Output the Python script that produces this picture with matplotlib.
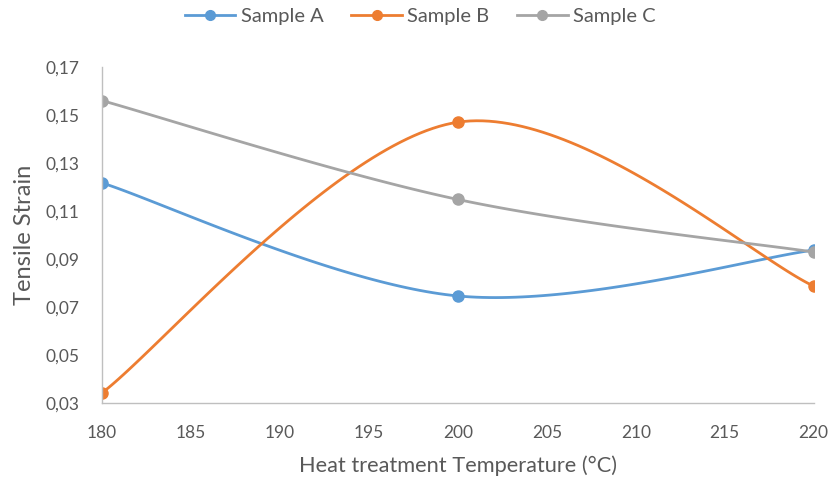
import numpy as np
import matplotlib
matplotlib.use("Agg")
import matplotlib.pyplot as plt
from matplotlib.ticker import FuncFormatter
from matplotlib.lines import Line2D

temps = [180, 200, 220]
sample_a = [0.1217, 0.0746, 0.0937]
sample_b = [0.0342, 0.1470, 0.0787]
sample_c = [0.1560, 0.1148, 0.0929]
series_names = ["Sample A", "Sample B", "Sample C"]
colors = ["#5B9BD5", "#ED7D31", "#A5A5A5"]

def smooth(xs, ys, n=60):
    p = np.column_stack([xs, ys]).astype(float)
    m = len(p)
    out = []
    for i in range(m - 1):
        p0 = p[i - 1] if i > 0 else p[i]
        p1, p2 = p[i], p[i + 1]
        p3 = p[i + 2] if i + 2 < m else p[i + 1]
        c1 = p1 + (p2 - p0) / 6.0
        c2 = p2 - (p3 - p1) / 6.0
        t = np.linspace(0, 1, n)[:, None]
        seg = ((1 - t) ** 3) * p1 + 3 * ((1 - t) ** 2) * t * c1 + 3 * (1 - t) * t ** 2 * c2 + t ** 3 * p2
        out.append(seg if i == 0 else seg[1:])
    pts = np.vstack(out)
    return pts[:, 0], pts[:, 1]

plt.rcParams['font.family'] = ['Lato', 'DejaVu Sans']
fig = plt.figure(figsize=(8.32, 4.84), dpi=100)
ax = fig.add_axes([0.1226, 0.1674, 0.8554, 0.6942])

for name, ys, c in zip(series_names, [sample_a, sample_b, sample_c], colors):
    sx, sy = smooth(temps, ys)
    ax.plot(sx, sy, color=c, lw=2.0, solid_capstyle='round')
    ax.plot(temps, ys, 'o', color=c, ms=8, label=name)

handles = [Line2D([0], [0], color=c, lw=2.0, marker='o', ms=7) for c in colors]
leg = fig.legend(handles, series_names, loc='center', bbox_to_anchor=(0.505, 0.965), ncol=3,
                 frameon=False, fontsize=14.5, handlelength=2.5, columnspacing=1.4, handletextpad=0.25)
for t in leg.get_texts():
    t.set_color('#595959')

ax.set_xlim(180, 220)
ax.set_ylim(0.03, 0.17)
ax.set_xticks(np.arange(180, 221, 5))
ax.set_yticks(np.arange(0.03, 0.1701, 0.02))
ax.yaxis.set_major_formatter(FuncFormatter(lambda v, p: f"{v:.2f}".replace('.', ',')))
ax.tick_params(length=0, labelsize=12.5, colors='#595959', pad=16)
for s in ['top', 'right']:
    ax.spines[s].set_visible(False)
for s in ['left', 'bottom']:
    ax.spines[s].set_color('#BFBFBF')
    ax.spines[s].set_linewidth(1.0)
ax.set_xlabel("Heat treatment Temperature (°C)", fontsize=15.7, color='#595959', labelpad=10)
ax.set_ylabel("Tensile Strain", fontsize=17, color='#595959', labelpad=8)

fig.savefig("out.png", dpi=100)
